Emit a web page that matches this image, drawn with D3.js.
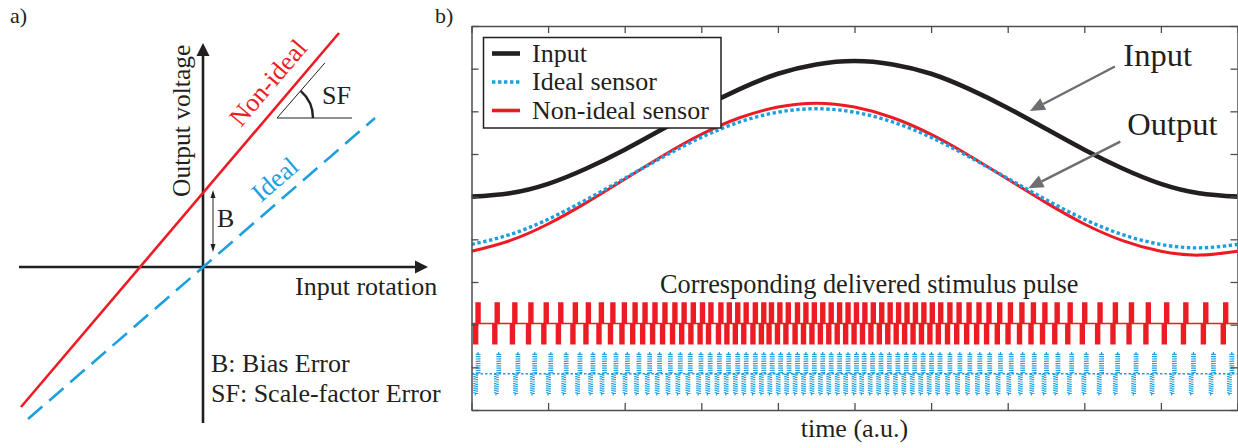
<!DOCTYPE html>
<html>
<head>
<meta charset="utf-8">
<script src="https://cdn.jsdelivr.net/npm/d3@7"></script>
<style>
  html, body { margin: 0; padding: 0; background: #fff; }
  svg { display: block; }
</style>
</head>
<body>
<script>
// ---------- Panel b: sensor signals over one period ----------
const timeSamples = [0, 0.5, 1, 1.5, 2, 2.5, 3, 3.5, 4, 4.5, 5, 5.5, 6, 6.5, 7, 7.5, 8, 8.5, 9, 9.5, 10];
const inputSignal    = [5.00, 5.08, 5.30, 5.66, 6.10, 6.59, 7.08, 7.52, 7.88, 8.10, 8.18, 8.10, 7.88, 7.52, 7.08, 6.59, 6.10, 5.66, 5.30, 5.08, 5.00];
const idealOutput    = [3.88, 4.11, 4.47, 4.93, 5.43, 5.93, 6.39, 6.75, 6.98, 7.06, 6.98, 6.75, 6.39, 5.93, 5.43, 4.93, 4.47, 4.11, 3.88, 3.80, 3.88];
const nonIdealOutput = [3.72, 3.97, 4.36, 4.86, 5.41, 5.96, 6.46, 6.85, 7.10, 7.19, 7.10, 6.85, 6.46, 5.96, 5.41, 4.86, 4.36, 3.97, 3.72, 3.63, 3.72];

// Stimulus pulse onsets (time, a.u.)
const nonIdealPulseTimes = [0.07, 0.32, 0.55, 0.76, 0.96, 1.15, 1.34, 1.51, 1.68, 1.83, 1.98, 2.12, 2.25, 2.38, 2.51, 2.64, 2.76, 2.88, 3.00, 3.11, 3.24, 3.35, 3.46, 3.57, 3.69, 3.80, 3.90, 4.01, 4.12, 4.24, 4.35, 4.46, 4.57, 4.68, 4.79, 4.90, 5.01, 5.12, 5.23, 5.34, 5.45, 5.56, 5.67, 5.78, 5.89, 6.00, 6.11, 6.23, 6.35, 6.48, 6.61, 6.74, 6.88, 7.02, 7.17, 7.32, 7.47, 7.63, 7.80, 7.99, 8.19, 8.39, 8.60, 8.82, 9.06, 9.31, 9.57, 9.83];
const idealPulseTimes    = [0.07, 0.34, 0.59, 0.81, 1.02, 1.22, 1.40, 1.57, 1.72, 1.87, 2.02, 2.17, 2.31, 2.44, 2.58, 2.71, 2.84, 2.98, 3.10, 3.22, 3.34, 3.46, 3.57, 3.69, 3.80, 3.91, 4.02, 4.13, 4.24, 4.35, 4.46, 4.57, 4.68, 4.79, 4.90, 5.01, 5.11, 5.22, 5.33, 5.44, 5.55, 5.66, 5.77, 5.88, 5.99, 6.10, 6.23, 6.36, 6.49, 6.62, 6.75, 6.89, 7.03, 7.18, 7.33, 7.49, 7.64, 7.82, 8.01, 8.21, 8.42, 8.66, 8.90, 9.16, 9.41, 9.67, 9.91];
const pulseBaselines  = [2.03, 0.85];   // non-ideal train, ideal train
const pulseAmplitudes = [0.46, 0.48];

const xTickValues = [0, 1, 2, 3, 4, 5, 6, 7, 8, 9, 10];
const yTickValues = [0, 1, 2, 3, 4, 5, 6, 7, 8, 9];
const legendLabels = ["Input", "Ideal sensor", "Non-ideal sensor"];

// ---------- Panel a: transfer characteristics (input rotation vs output voltage) ----------
const idealLine    = [[-1.75, -1.52], [1.72, 1.49]];
const nonIdealLine = [[-1.82, -1.40], [1.36, 2.34]];

// ---------- styling ----------
const FONT = "'Liberation Serif', 'Times New Roman', Times, serif";
const RED = "#ed1c24", BLUE = "#1d9fdf", BLACK = "#231f20", GREY = "#6d6e71", FRAME = "#4d4d4f";

const svg = d3.select("body").append("svg")
  .attr("width", 1238).attr("height", 448)
  .style("font-family", FONT);
svg.append("rect").attr("width", 1238).attr("height", 448).attr("fill", "#fff");

function arrow(g, x1, y1, x2, y2, len, wid, color, sw) {
  const a = Math.atan2(y2 - y1, x2 - x1);
  const bx = x2 - len * Math.cos(a), by = y2 - len * Math.sin(a);
  g.append("line").attr("x1", x1).attr("y1", y1).attr("x2", bx).attr("y2", by)
    .attr("stroke", color).attr("stroke-width", sw);
  const px = -Math.sin(a) * wid / 2, py = Math.cos(a) * wid / 2;
  g.append("path").attr("d", `M${x2},${y2}L${bx + px},${by + py}L${bx - px},${by - py}Z`).attr("fill", color);
}

// ================= Panel a =================
const gA = svg.append("g");
const xA = d3.scaleLinear().domain([-1.84, 2.25]).range([19, 428]);
const yA = d3.scaleLinear().domain([-1.56, 2.24]).range([423, 43]);

gA.append("text").attr("x", 10).attr("y", 23).attr("font-size", 22).attr("fill", BLACK).text("a)");

// axes with arrow heads
arrow(gA, xA(-1.84), yA(0), xA(2.25), yA(0), 13, 13, BLACK, 2.6);
arrow(gA, xA(0), yA(-1.56), xA(0), yA(2.24), 13, 13, BLACK, 2.6);

const lineA = d3.line().x(d => xA(d[0])).y(d => yA(d[1]));
gA.append("path").attr("d", lineA(idealLine)).attr("fill", "none")
  .attr("stroke", BLUE).attr("stroke-width", 2.6).attr("stroke-dasharray", "19,9");
gA.append("path").attr("d", lineA(nonIdealLine)).attr("fill", "none")
  .attr("stroke", RED).attr("stroke-width", 2.6);

// bias arrow
const bx = xA(0.10);
arrow(gA, bx, (yA(0.77) + yA(0.15)) / 2, bx, yA(0.77), 8, 5, BLACK, 1);
arrow(gA, bx, (yA(0.77) + yA(0.15)) / 2, bx, yA(0.15), 8, 5, BLACK, 1);
gA.append("text").attr("x", 217).attr("y", 227).attr("font-size", 26).attr("fill", BLACK).text("B");

// scale-factor angle
const vx = 277, vy = 118, ang = 49 * Math.PI / 180, r = 36;
gA.append("line").attr("x1", vx).attr("y1", vy).attr("x2", 352).attr("y2", vy).attr("stroke", BLACK).attr("stroke-width", 1);
gA.append("line").attr("x1", vx).attr("y1", vy).attr("x2", vx + 73 * Math.cos(ang)).attr("y2", vy - 73 * Math.sin(ang)).attr("stroke", BLACK).attr("stroke-width", 1);
gA.append("path").attr("d", `M${vx + r},${vy} A${r},${r} 0 0 0 ${vx + r * Math.cos(ang)},${vy - r * Math.sin(ang)}`)
  .attr("fill", "none").attr("stroke", BLACK).attr("stroke-width", 2.4);
gA.append("text").attr("x", 322).attr("y", 104).attr("font-size", 26).attr("fill", BLACK).text("SF");

gA.append("text").attr("transform", "translate(190,197) rotate(-90)").attr("font-size", 25.5).attr("fill", BLACK).text("Output voltage");
gA.append("text").attr("x", 295).attr("y", 295).attr("font-size", 26).attr("fill", BLACK).text("Input rotation");
gA.append("text").attr("transform", "translate(241,128) rotate(-49.6)").attr("font-size", 26).attr("fill", RED).text("Non-ideal");
gA.append("text").attr("transform", "translate(261,203) rotate(-40.9)").attr("font-size", 26).attr("fill", BLUE).text("Ideal");
gA.append("text").attr("x", 211).attr("y", 372).attr("font-size", 26).attr("fill", BLACK).text("B: Bias Error");
gA.append("text").attr("x", 211).attr("y", 402).attr("font-size", 26).attr("fill", BLACK).text("SF: Scale-factor Error");

// ================= Panel b =================
const gB = svg.append("g");
const xB = d3.scaleLinear().domain([0, 10]).range([471.5, 1237.5]);
const yB = d3.scaleLinear().domain([0, 9]).range([410, 26]);

gB.append("text").attr("x", 435).attr("y", 23).attr("font-size", 22).attr("fill", BLACK).text("b)");

svg.append("defs").append("clipPath").attr("id", "plotClip")
  .append("rect").attr("x", xB(0)).attr("y", yB(9)).attr("width", xB(10) - xB(0)).attr("height", yB(0) - yB(9));
const plot = gB.append("g").attr("clip-path", "url(#plotClip)");

const curve = series => d3.line()
  .x((d, i) => xB(timeSamples[i])).y(d => yB(d)).curve(d3.curveNatural)(series);

plot.append("path").attr("d", curve(inputSignal)).attr("fill", "none").attr("stroke", BLACK).attr("stroke-width", 4.6);
plot.append("path").attr("d", curve(nonIdealOutput)).attr("fill", "none").attr("stroke", RED).attr("stroke-width", 3);
plot.append("path").attr("d", curve(idealOutput)).attr("fill", "none").attr("stroke", BLUE).attr("stroke-width", 3.4).attr("stroke-dasharray", "3.4,2.6");

// stimulus pulse trains (biphasic pulses on a baseline)
const pulsePath = (t, base, amp) => {
  const x = xB(t), w = 2.4;
  return `M${x - w},${yB(base)}V${yB(base - amp)}H${x}V${yB(base + amp)}H${x + w}V${yB(base)}`;
};
plot.append("line").attr("x1", xB(0)).attr("x2", xB(10)).attr("y1", yB(pulseBaselines[0])).attr("y2", yB(pulseBaselines[0]))
  .attr("stroke", RED).attr("stroke-width", 1.5);
plot.append("path").attr("d", nonIdealPulseTimes.map(t => pulsePath(t, pulseBaselines[0], pulseAmplitudes[0])).join(""))
  .attr("fill", "none").attr("stroke", RED).attr("stroke-width", 3);
plot.append("line").attr("x1", xB(0)).attr("x2", xB(10)).attr("y1", yB(pulseBaselines[1])).attr("y2", yB(pulseBaselines[1]))
  .attr("stroke", BLUE).attr("stroke-width", 1.6).attr("stroke-dasharray", "2.5,2");
plot.append("path").attr("d", idealPulseTimes.map(t => pulsePath(t, pulseBaselines[1], pulseAmplitudes[1])).join(""))
  .attr("fill", "none").attr("stroke", BLUE).attr("stroke-width", 2.4).attr("stroke-dasharray", "1.2,1.1");

// frame with inward ticks on all four sides
const styleAxis = g => {
  g.selectAll("path.domain").attr("stroke", FRAME).attr("stroke-width", 1.5);
  g.selectAll(".tick line").attr("stroke", FRAME).attr("stroke-width", 1.3);
  g.selectAll(".tick text").remove();
};
gB.append("g").attr("transform", `translate(0,${yB(0)})`)
  .call(d3.axisBottom(xB).tickValues(xTickValues).tickFormat("").tickSizeInner(-7).tickSizeOuter(0)).call(styleAxis);
gB.append("g").attr("transform", `translate(0,${yB(9)})`)
  .call(d3.axisTop(xB).tickValues(xTickValues).tickFormat("").tickSizeInner(-7).tickSizeOuter(0)).call(styleAxis);
gB.append("g").attr("transform", `translate(${xB(0)},0)`)
  .call(d3.axisLeft(yB).tickValues(yTickValues).tickFormat("").tickSizeInner(-7).tickSizeOuter(0)).call(styleAxis);
gB.append("g").attr("transform", `translate(${xB(10)},0)`)
  .call(d3.axisRight(yB).tickValues(yTickValues).tickFormat("").tickSizeInner(-7).tickSizeOuter(0)).call(styleAxis);

// legend
const lg = gB.append("g");
lg.append("rect").attr("x", 483.5).attr("y", 37.5).attr("width", 237.5).attr("height", 90.5)
  .attr("fill", "#fff").attr("stroke", BLACK).attr("stroke-width", 1.5);
const legendStyles = [
  { color: BLACK, width: 4.6, dash: null },
  { color: BLUE, width: 3.4, dash: "3.4,2.6" },
  { color: RED, width: 3.6, dash: null }
];
legendLabels.forEach((label, i) => {
  const cy = 53.5 + i * 28.5;
  const s = legendStyles[i];
  lg.append("line").attr("x1", 492).attr("x2", 520).attr("y1", cy).attr("y2", cy)
    .attr("stroke", s.color).attr("stroke-width", s.width).attr("stroke-dasharray", s.dash);
  lg.append("text").attr("x", 532).attr("y", cy + 8).attr("font-size", 26).attr("fill", BLACK).text(label);
});

// annotations
arrow(gB, xB(8.40), yB(8.05), xB(7.29), yB(7.01), 15, 13, GREY, 2.4);
arrow(gB, xB(8.47), yB(6.29), xB(7.27), yB(5.20), 15, 13, GREY, 2.4);
gB.append("text").attr("x", xB(8.51)).attr("y", yB(8.06)).attr("font-size", 32.5).attr("fill", BLACK).text("Input");
gB.append("text").attr("x", xB(8.56)).attr("y", yB(6.44)).attr("font-size", 32.5).attr("fill", BLACK).text("Output");

gB.append("text").attr("x", 660).attr("y", 293).attr("font-size", 26.3).attr("fill", BLACK).text("Corresponding delivered stimulus pulse");
gB.append("text").attr("x", (xB(0) + xB(10)) / 2).attr("y", 437).attr("text-anchor", "middle").attr("font-size", 26).attr("fill", BLACK).text("time (a.u.)");
</script>
</body>
</html>
